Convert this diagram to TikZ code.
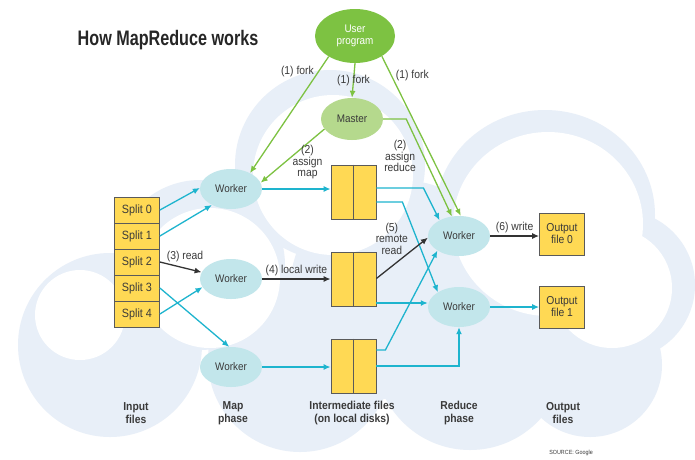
\documentclass[tikz,border=0pt]{standalone}
\usepackage{fontspec}
\setmainfont{Liberation Sans}[FakeStretch=0.9]
\newfontfamily\titlefont{Liberation Sans}[FakeStretch=0.77]
\usetikzlibrary{arrows.meta,positioning,calc,shapes.geometric}
\definecolor{mgreen}{HTML}{7DC242}
\definecolor{mlgreen}{HTML}{B5D98D}
\definecolor{mcyan}{HTML}{1EB4CE}
\definecolor{mlcyan}{HTML}{C2E6EB}
\definecolor{myellow}{HTML}{FFD954}
\definecolor{mline}{HTML}{5A5A5A}
\definecolor{mtext}{HTML}{3A3A3A}
\definecolor{mcloud}{HTML}{E8EFF8}

\begin{document}
\begin{tikzpicture}[
  x=1pt,y=-1pt,
  font=\fontsize{11}{12}\selectfont,text=mtext,
  worker/.style={ellipse,fill=mlcyan,minimum width=62,minimum height=40,inner sep=0pt},
  box/.style={draw=mline,fill=myellow,inner sep=0pt,align=center,line width=0.8pt},
  split/.style={box,minimum width=45,minimum height=26,font=\fontsize{12}{13}\selectfont},
  ifile/.style={box,minimum width=45,minimum height=54},
  ofile/.style={box,minimum width=45,minimum height=42,font=\fontsize{11.5}{12}\selectfont},
  lbl/.style={font=\fontsize{11.5}{11.5}\selectfont,text=mtext,align=center,inner sep=1pt},
  foot/.style={font=\fontsize{11.5}{12.5}\selectfont\bfseries,align=center},
  arrbase/.style={-{Latex[length=7pt,width=6pt]},line width=1.3pt},
  garr/.style={arrbase,mgreen},
  carr/.style={arrbase,mcyan},
  karr/.style={arrbase,black!80}]

\fill[white] (0,0) rectangle (695,459);
\useasboundingbox (0,0) rectangle (695,459);

% ---------- background cloud ----------
\fill[mcloud] (330,165) circle[radius=95] (545,215) ellipse[x radius=110,y radius=105]
  (620,285) circle[radius=75] (200,265) circle[radius=85] (110,345) circle[radius=92]
  (300,360) circle[radius=92] (470,355) circle[radius=95] (590,365) circle[radius=72]
  (400,290) circle[radius=110];
\fill[white] (333,175) circle[radius=80] (548,224) ellipse[x radius=95,y radius=92]
  (210,278) circle[radius=70] (612,288) circle[radius=60] (80,315) circle[radius=45];

% ---------- title ----------
\node[font=\titlefont\fontsize{21}{22}\selectfont\bfseries,text=black!85] (title) at (168,40) {How MapReduce works};

% ---------- user program and master ----------
\node[ellipse,fill=mgreen,text=white,minimum width=80,minimum height=54,align=center,inner sep=0pt] (user) at (355,36) {User\\program};
\node[ellipse,fill=mlgreen,minimum width=62,minimum height=42,inner sep=0pt] (master) at (352,119) {Master};

% ---------- input splits ----------
\foreach \i/\yy in {0/210,1/236,2/262,3/288,4/314}
  \node[split] (s\i) at (137,\yy) {Split \i};
\draw[mline,line width=1.8pt] (s2.south west) -- (s2.south east);

% ---------- map workers ----------
\node[worker] (w0) at (231,189) {Worker};
\node[worker] (w1) at (231,279) {Worker};
\node[worker] (w2) at (231,367) {Worker};

% ---------- intermediate files ----------
\node[ifile] (f0) at (353.5,192) {};
\node[ifile] (f1) at (353.5,279.5) {};
\node[ifile] (f2) at (353.5,366) {};
\foreach \f in {f0,f1,f2}
  \draw[mline,line width=0.8pt] (\f.north) -- (\f.south);

% ---------- reduce workers and output files ----------
\node[worker] (r0) at (459,236) {Worker};
\node[worker] (r1) at (459,307) {Worker};
\node[ofile] (o0) at (562,234) {Output\\file 0};
\node[ofile] (o1) at (562,307) {Output\\file 1};

% ---------- fork and assign ----------
\draw[garr] (user.218) -- node[lbl,pos=0.13,anchor=east,xshift=-3pt]{(1) fork} (w0.40);
\draw[garr] (user.south) -- node[lbl,pos=0.5]{(1) fork} (master.north);
\draw[garr] (user.-37) -- node[lbl,pos=0.12,anchor=west,xshift=3pt]{(1) fork} (r0.85);
\draw[garr] (master.200) -- node[lbl,pos=0.62,right=6pt]{(2)\\assign\\map} (w0.12);
\draw[garr] (master.east) -- ++(23,0) -- node[lbl,pos=0.38,left=6pt]{(2)\\assign\\reduce} (r0.110);

% ---------- read and map ----------
\draw[carr] (s0.east) -- (w0.178);
\draw[carr] (s1.east) -- (w0.220);
\draw[karr] (s2.east) -- node[lbl,pos=0.6,above=5pt]{(3) read} (w1.167);
\draw[carr] (s3.east) -- (w2.95);
\draw[carr] (s4.east) -- (w1.196);
\draw[carr] (w0.east) -- (w0.east -| f0.west);
\draw[karr] (w1.east) -- node[lbl,above=1pt]{(4) local write} (w1.east -| f1.west);
\draw[carr] (w2.east) -- (w2.east -| f2.west);

% ---------- remote read into reducers ----------
\draw[carr] ([yshift=4pt]f0.east) -- ++(47,0) -- (r0.141);
\draw[carr] ([yshift=-10pt]f0.east) -- ++(26,0) -- (r1.145);
\draw[karr] ([yshift=1pt]f1.east) -- node[lbl,pos=0.3,above=10pt]{(5)\\remote\\read} (r0.183);
\draw[carr] ([yshift=-23.5pt]f1.east) -- ([yshift=-23.5pt]f1.east -| r1.west);
\draw[carr] ([yshift=16pt]f2.east) -- ++(9,0) -- (r0.214);
\draw[carr] (f2.east) -- (f2.east -| r1.south) -- (r1.south);

% ---------- write output ----------
\draw[karr] (r0.east) -- node[lbl,above=1pt]{(6) write} (r0.east -| o0.west);
\draw[carr] (r1.east) -- (r1.east -| o1.west);

% ---------- column captions ----------
\node[foot] (cin) at (136,413) {Input\\files};
\node[foot] (cmap) at (233,413) {Map\\phase};
\node[foot] (cmid) at (352,413) {Intermediate files\\(on local disks)};
\node[foot] (cred) at (459,413) {Reduce\\phase};
\node[foot] (cout) at (563,413) {Output\\files};
\node[font=\fontsize{6}{6}\selectfont] (src) at (571,453) {SOURCE: Google};
\end{tikzpicture}
\end{document}
